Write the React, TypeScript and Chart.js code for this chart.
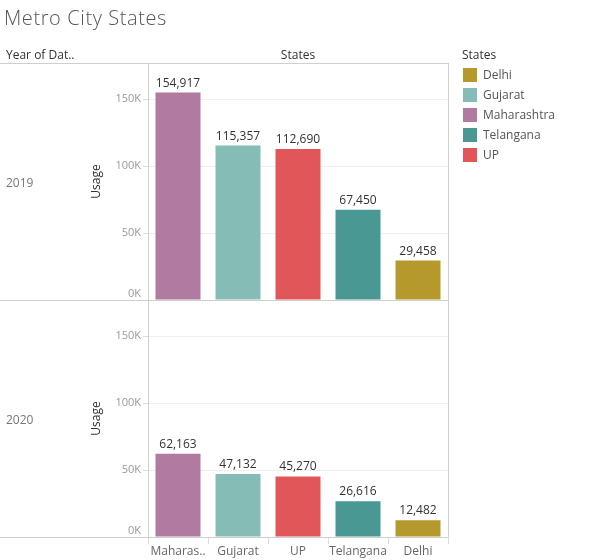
import React, { useEffect, useRef } from "react";
import { Chart, registerables } from "chart.js";

Chart.register(...registerables);

const states = ["Maharashtra", "Gujarat", "UP", "Telangana", "Delhi"];
const usage2019 = [154917, 115357, 112690, 67450, 29458];
const usage2020 = [62163, 47132, 45270, 26616, 12482];
const years = ["2019", "2020"];
const stateColors = ["#b07aa1", "#86bcb6", "#e15759", "#499894", "#b6992d"];
const legendStates = ["Delhi", "Gujarat", "Maharashtra", "Telangana", "UP"];
const legendColors = ["#b6992d", "#86bcb6", "#b07aa1", "#499894", "#e15759"];
const yTicks = [0, 50000, 100000, 150000];
const yMax = 177000;

const FONT = "'Open Sans', sans-serif";
const TICK_COLOR = "#999";

const fmtK = (v: number) => `${v / 1000}K`;

const framePlugin = {
  id: "frame",
  afterDraw(chart: any) {
    const { ctx, chartArea } = chart;
    const y1 = chart.scales.y2019;
    const y2 = chart.scales.y2020;
    ctx.save();
    ctx.strokeStyle = "#cfcfcf";
    ctx.lineWidth = 1;
    const hl = (y: number) => {
      ctx.beginPath();
      ctx.moveTo(0, Math.round(y) + 0.5);
      ctx.lineTo(chartArea.right, Math.round(y) + 0.5);
      ctx.stroke();
    };
    hl(chartArea.top);
    hl(y1.bottom);
    hl(chartArea.bottom);
    ctx.beginPath();
    ctx.moveTo(Math.round(chartArea.right) + 0.5, chartArea.top);
    ctx.lineTo(Math.round(chartArea.right) + 0.5, chartArea.bottom);
    ctx.stroke();
    // zero labels, nudged inside each pane
    ctx.fillStyle = TICK_COLOR;
    ctx.font = `11px ${FONT}`;
    ctx.textAlign = "right";
    ctx.textBaseline = "alphabetic";
    [y1, y2].forEach((s: any) => {
      ctx.fillText(fmtK(yTicks[0]), s.right - 7, s.getPixelForValue(yTicks[0]) - 3);
    });
    // year row labels
    ctx.fillStyle = "#777";
    ctx.font = `12px ${FONT}`;
    ctx.textAlign = "left";
    ctx.textBaseline = "middle";
    [y1, y2].forEach((s: any, i: number) => {
      ctx.fillText(years[i], 6, (s.top + s.bottom) / 2 + 2);
    });
    ctx.restore();
  },
};

const valueLabelPlugin = {
  id: "valueLabels",
  afterDatasetsDraw(chart: any) {
    const { ctx } = chart;
    ctx.save();
    ctx.fillStyle = "#333";
    ctx.font = `12px ${FONT}`;
    ctx.textAlign = "center";
    ctx.textBaseline = "alphabetic";
    chart.data.datasets.forEach((ds: any, i: number) => {
      const meta = chart.getDatasetMeta(i);
      meta.data.forEach((bar: any, j: number) => {
        ctx.fillText(Number(ds.data[j]).toLocaleString("en-US"), bar.x, bar.y - 6);
      });
    });
    ctx.restore();
  },
};

function yScale() {
  return {
    type: "linear",
    position: "left",
    stack: "years",
    stackWeight: 1,
    min: 0,
    max: yMax,
    afterBuildTicks: (s: any) => {
      s.ticks = yTicks.map((v) => ({ value: v }));
    },
    afterFit: (s: any) => {
      s.width = 64;
    },
    ticks: {
      color: TICK_COLOR,
      font: { family: FONT, size: 11 },
      padding: 2,
      callback: (v: any) => (Number(v) === 0 ? "" : fmtK(Number(v))),
    },
    grid: { color: "#f0f0f0", tickColor: "#dcdcdc", tickLength: 5 },
    border: { display: true, color: "#cfcfcf" },
    title: {
      display: true,
      text: "Usage",
      color: "#333",
      font: { family: FONT, size: 12 },
      padding: { top: 5, bottom: 0 },
    },
  };
}

function ChartCanvas() {
  const ref = useRef<HTMLCanvasElement>(null);
  useEffect(() => {
    if (!ref.current) return;
    const chart = new Chart(ref.current, {
      type: "bar",
      data: {
        labels: states,
        datasets: [
          {
            label: years[0],
            data: usage2019,
            backgroundColor: stateColors,
            yAxisID: "y2019",
            grouped: false,
            barPercentage: 0.75,
            categoryPercentage: 1,
          } as any,
          {
            label: years[1],
            data: usage2020,
            backgroundColor: stateColors,
            yAxisID: "y2020",
            grouped: false,
            barPercentage: 0.75,
            categoryPercentage: 1,
          } as any,
        ],
      },
      options: {
        animation: false,
        responsive: false,
        maintainAspectRatio: false,
        layout: { padding: { left: 84, top: 63, right: 152, bottom: 0 } },
        plugins: {
          legend: { display: false },
          tooltip: { enabled: false },
          title: { display: false },
        },
        scales: {
          x: {
            type: "category",
            offset: true,
            grid: {
              offset: true,
              drawOnChartArea: false,
              color: "#dcdcdc",
              tickLength: 7,
            },
            border: { display: false },
            afterFit: (s: any) => {
              s.height = 23;
            },
            ticks: {
              color: "#666",
              font: { family: FONT, size: 12 },
              padding: 0,
              maxRotation: 0,
              autoSkip: false,
              callback: function (this: any, v: any) {
                const l = this.getLabelForValue(v);
                return l.length > 9 ? l.slice(0, 7) + ".." : l;
              },
            },
          },
          // stacked scales: the later-defined one is placed on top
          y2020: yScale(),
          y2019: yScale(),
        } as any,
      },
      plugins: [framePlugin, valueLabelPlugin],
    });
    return () => chart.destroy();
  }, []);
  return (
    <canvas
      ref={ref}
      width={600}
      height={560}
      style={{ position: "absolute", left: 0, top: 0, width: 600, height: 560 }}
    />
  );
}

export default function App() {
  return (
    <div
      style={{
        position: "absolute",
        left: 0,
        top: 0,
        width: 600,
        height: 560,
        background: "#fff",
        fontFamily: FONT,
        overflow: "hidden",
      }}
    >
      <ChartCanvas />
      <div
        style={{
          position: "absolute",
          left: 4,
          top: 5,
          fontSize: 20,
          letterSpacing: 0.6,
          color: "#555",
          fontWeight: 300,
          lineHeight: "26px",
          whiteSpace: "nowrap",
        }}
      >
        Metro City States
      </div>
      <div
        style={{
          position: "absolute",
          left: 6,
          top: 47,
          fontSize: 12,
          color: "#333",
          lineHeight: "16px",
          whiteSpace: "nowrap",
        }}
      >
        Year of Dat..
      </div>
      <div
        style={{
          position: "absolute",
          left: 148,
          width: 300,
          top: 47,
          fontSize: 12,
          color: "#333",
          lineHeight: "16px",
          textAlign: "center",
        }}
      >
        States
      </div>
      <div style={{ position: "absolute", left: 462, top: 47 }}>
        <div style={{ fontSize: 12, color: "#333", lineHeight: "16px", marginBottom: 2 }}>
          States
        </div>
        {legendStates.map((s, i) => (
          <div
            key={s}
            style={{ display: "flex", alignItems: "center", height: 20 }}
          >
            <div
              style={{
                width: 14,
                height: 14,
                background: legendColors[i],
                marginLeft: 1,
                marginRight: 6,
              }}
            />
            <span style={{ fontSize: 12, color: "#555", lineHeight: "16px" }}>{s}</span>
          </div>
        ))}
      </div>
    </div>
  );
}
